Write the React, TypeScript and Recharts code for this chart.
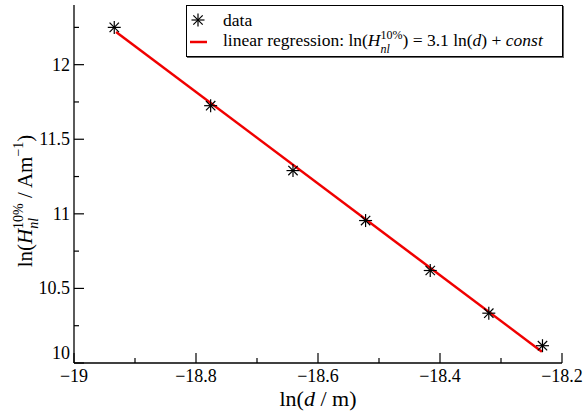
import { ComposedChart, Scatter, Line, XAxis, YAxis, Legend } from "recharts";

const X_VALUES = [-18.934, -18.776, -18.641, -18.522, -18.416, -18.32, -18.232];
const Y_VALUES = [12.25, 11.725, 11.29, 10.955, 10.62, 10.334, 10.116];
const REG_X = [-18.931, -18.233];
const REG_Y = [12.219, 10.076];

const X_MAJOR = [-19, -18.8, -18.6, -18.4, -18.2];
const X_MINOR = [-18.9, -18.7, -18.5, -18.3];
const Y_MAJOR = [10, 10.5, 11, 11.5, 12];
const Y_MINOR = [10.25, 10.75, 11.25, 11.75, 12.25];

const points = X_VALUES.map((x, i) => ({ x, y: Y_VALUES[i] }));
const regLine = REG_X.map((x, i) => ({ x, y: REG_Y[i] }));
const xTicks = [...X_MAJOR, ...X_MINOR].sort((a, b) => a - b);
const yTicks = [...Y_MAJOR, ...Y_MINOR].sort((a, b) => a - b);

const FONT = "'Liberation Serif', 'Times New Roman', serif";
const RED = "#f00000";
const W = 587, H = 415;
const M = { top: 5, right: 25, bottom: 0, left: 0 };
const X_AXIS_H = 52, Y_AXIS_W = 74;
const MAJOR_LEN = 10, MINOR_LEN = 5;

const isMajor = (v: number, list: number[]) => list.some(m => Math.abs(m - v) < 1e-6);
const fmt = (v: number) => (v < 0 ? "\u2212" : "") + String(Math.abs(Number(v.toFixed(2))));

const BottomTick = ({ x, y, payload }: any) => {
  const major = isMajor(payload.value, X_MAJOR);
  return (
    <g>
      <line x1={x} x2={x} y1={y} y2={y - (major ? MAJOR_LEN : MINOR_LEN)} stroke="#000" strokeWidth={1.2} />
      {major && (
        <text x={x} y={y + 19} textAnchor="middle" fontFamily={FONT} fontSize={18} fill="#000">{fmt(payload.value)}</text>
      )}
    </g>
  );
};

const TopTick = ({ x, y, payload }: any) => {
  const major = isMajor(payload.value, X_MAJOR);
  return <line x1={x} x2={x} y1={y} y2={y + (major ? MAJOR_LEN : MINOR_LEN)} stroke="#000" strokeWidth={1.2} />;
};

const LeftTick = ({ x, y, payload }: any) => {
  const major = isMajor(payload.value, Y_MAJOR);
  const lift = payload.value === 10 ? -10 : 0;
  return (
    <g>
      <line x1={x} x2={x + (major ? MAJOR_LEN : MINOR_LEN)} y1={y} y2={y} stroke="#000" strokeWidth={1.2} />
      {major && (
        <text x={x - 4} y={y + 6 + lift} textAnchor="end" fontFamily={FONT} fontSize={18} fill="#000">{fmt(payload.value)}</text>
      )}
    </g>
  );
};

const RightTick = ({ x, y, payload }: any) => {
  const major = isMajor(payload.value, Y_MAJOR);
  return <line x1={x} x2={x - (major ? MAJOR_LEN : MINOR_LEN)} y1={y} y2={y} stroke="#000" strokeWidth={1.2} />;
};

const StarShape = ({ cx, cy }: any) => {
  const r = 6.5, d = r * 0.72;
  return (
    <g stroke="#000" strokeWidth={1.2}>
      <line x1={cx - r} y1={cy} x2={cx + r} y2={cy} />
      <line x1={cx} y1={cy - r} x2={cx} y2={cy + r} />
      <line x1={cx - d} y1={cy - d} x2={cx + d} y2={cy + d} />
      <line x1={cx - d} y1={cy + d} x2={cx + d} y2={cy - d} />
    </g>
  );
};

const XTitle = () => {
  const cx = Y_AXIS_W + (W - M.right - Y_AXIS_W) / 2;
  return (
    <text x={cx} y={H - 9} textAnchor="middle" fontFamily={FONT} fontSize={22} fill="#000">
      ln(<tspan fontStyle="italic">d</tspan> / m)
    </text>
  );
};

const YTitle = () => {
  const cx = 32, cy = 201;
  return (
    <text x={cx} y={cy} textAnchor="middle" fontFamily={FONT} fontSize={21} fill="#000" transform={`rotate(-90 ${cx} ${cy})`}>
      ln(<tspan fontStyle="italic">H</tspan>
      <tspan fontSize={14} fontStyle="italic" dy={6}>nl</tspan>
      <tspan fontSize={14} dx={-11} dy={-15}>10%</tspan>
      <tspan dy={9}> / Am</tspan>
      <tspan fontSize={14} dy={-9}>{"\u2212"}1</tspan>
      <tspan dy={9}>)</tspan>
    </text>
  );
};

const LegendBox = ({ payload }: any) => {
  const list = payload || [];
  const dataName = list.find((p: any) => p.value === "data")?.value ?? "data";
  const regName = list.find((p: any) => p.value !== "data")?.value ?? "linear regression";
  const row = { display: "flex", alignItems: "center", height: 22, whiteSpace: "nowrap" as const };
  return (
    <div style={{ border: "1px solid #000", boxShadow: "1px 1px 0 #666", background: "#fff", fontFamily: FONT, fontSize: 17.5, color: "#000", padding: "3px 0 6px 0", boxSizing: "border-box", height: 52 }}>
      <div style={row}>
        <svg width={36} height={22}><StarShape cx={11} cy={11} /></svg>
        <span>{dataName}</span>
      </div>
      <div style={row}>
        <svg width={36} height={22}><line x1={3} x2={20} y1={11} y2={11} stroke={RED} strokeWidth={2.5} /></svg>
        <span>
          {regName}: ln(<i>H</i>
          <span style={{ display: "inline-flex", flexDirection: "column", fontSize: 12, lineHeight: "14px", verticalAlign: "middle" }}>
            <span>10%</span><i>nl</i>
          </span>) = 3.1 ln(<i>d</i>) + <i>const</i>
        </span>
      </div>
    </div>
  );
};

export default function App() {
  return (
    <div style={{ position: "absolute", left: 0, top: 0, width: W, height: H, background: "#fff" }}>
      <ComposedChart width={W} height={H} margin={M}>
        <XAxis xAxisId="bottom" type="number" dataKey="x" domain={[-19, -18.2]} ticks={xTicks} interval={0}
          allowDataOverflow height={X_AXIS_H} tickSize={0} tickMargin={0} tickLine={false}
          axisLine={{ stroke: "#000", strokeWidth: 1.3 }} tick={<BottomTick />} label={<XTitle />} />
        <XAxis xAxisId="top" orientation="top" type="number" dataKey="x" domain={[-19, -18.2]} ticks={xTicks} interval={0}
          allowDataOverflow height={0} tickSize={0} tickMargin={0} tickLine={false}
          axisLine={{ stroke: "#000", strokeWidth: 1.3 }} tick={<TopTick />} />
        <YAxis yAxisId="left" type="number" dataKey="y" domain={[10, 12.4]} ticks={yTicks} interval={0}
          allowDataOverflow width={Y_AXIS_W} tickSize={0} tickMargin={0} tickLine={false}
          axisLine={{ stroke: "#000", strokeWidth: 1.3 }} tick={<LeftTick />} label={<YTitle />} />
        <YAxis yAxisId="right" orientation="right" type="number" dataKey="y" domain={[10, 12.4]} ticks={yTicks} interval={0}
          allowDataOverflow width={0} tickSize={0} tickMargin={0} tickLine={false}
          axisLine={{ stroke: "#000", strokeWidth: 1.3 }} tick={<RightTick />} />
        <Line xAxisId="bottom" yAxisId="left" data={regLine} dataKey="y" name="linear regression" stroke={RED}
          strokeWidth={2.5} dot={false} activeDot={false} isAnimationActive={false} />
        <Scatter xAxisId="bottom" yAxisId="left" data={points} dataKey="y" name="data" shape={<StarShape />}
          isAnimationActive={false} />
        <Legend verticalAlign="middle" align="center" layout="horizontal" content={<LegendBox />}
          wrapperStyle={{ position: "absolute", left: 186, top: 5, width: 377, height: 52 }} />
      </ComposedChart>
    </div>
  );
}
